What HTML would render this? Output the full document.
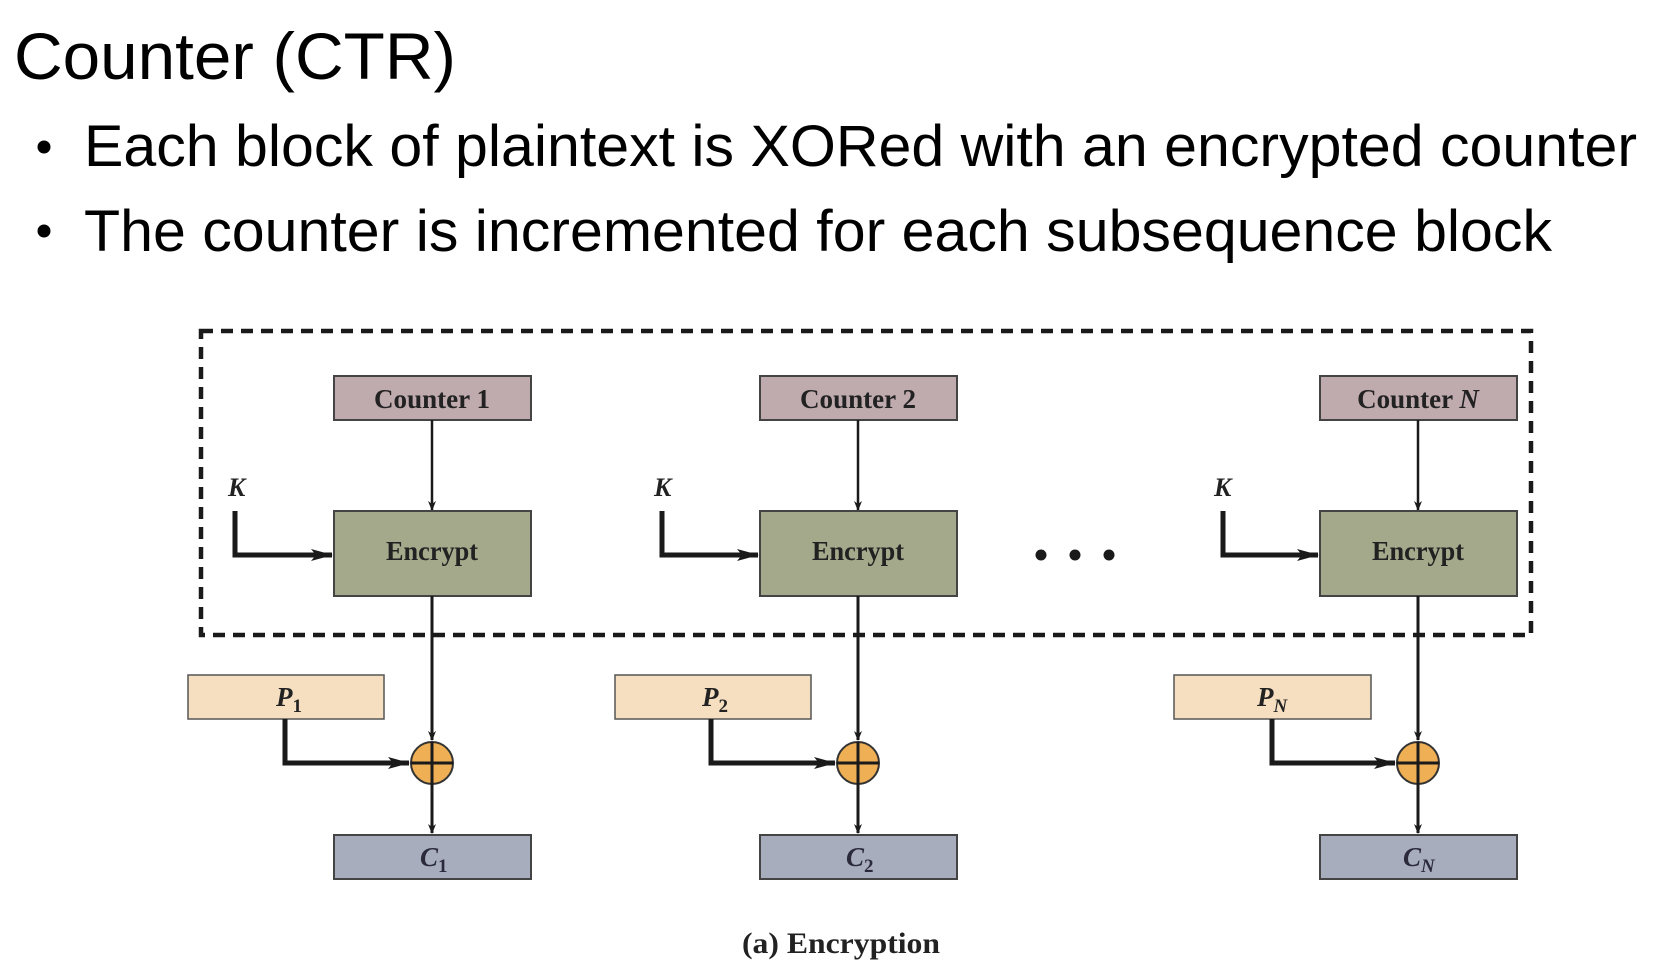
<!DOCTYPE html>
<html><head><meta charset="utf-8"><style>
html,body{margin:0;padding:0;background:#fff;}
svg{display:block;}
</style></head><body>
<svg width="1662" height="978" viewBox="0 0 1662 978" xmlns="http://www.w3.org/2000/svg">
<defs>
<marker id="a" markerWidth="10" markerHeight="10" refX="9" refY="5" orient="auto" markerUnits="userSpaceOnUse"><path d="M0,1 L10,5 L0,9 L3,5 z" fill="#1a1a1a"/></marker>
<marker id="b" markerWidth="22" markerHeight="14" refX="21" refY="7" orient="auto" markerUnits="userSpaceOnUse"><path d="M0,1 L22,7 L0,13 L5,7 z" fill="#1a1a1a"/></marker>
</defs>
<g font-family="Liberation Sans, Arial, sans-serif" fill="#000">
<text x="14" y="79" font-size="66" textLength="442" lengthAdjust="spacingAndGlyphs">Counter (CTR)</text>
<circle cx="44" cy="147" r="6.5"/>
<text x="84" y="166" font-size="58" textLength="1553" lengthAdjust="spacingAndGlyphs">Each block of plaintext is XORed with an encrypted counter</text>
<circle cx="44" cy="231" r="6.5"/>
<text x="84" y="251" font-size="58" textLength="1468" lengthAdjust="spacingAndGlyphs">The counter is incremented for each subsequence block</text>
</g>
<rect x="201" y="331" width="1330" height="304" fill="none" stroke="#1a1a1a" stroke-width="4.5" stroke-dasharray="12,8"/>
<g font-family="Liberation Serif, Times New Roman, serif" font-weight="bold" fill="#222" font-size="27">
<!-- group 1 -->
<g>
<rect x="334" y="376" width="197" height="44" fill="#bfaaae" stroke="#444" stroke-width="2"/>
<text x="432" y="408" text-anchor="middle" textLength="116" lengthAdjust="spacingAndGlyphs">Counter 1</text>
<line x1="432" y1="420" x2="432" y2="510" stroke="#1a1a1a" stroke-width="2.5" marker-end="url(#a)"/>
<rect x="334" y="511" width="197" height="85" fill="#a4a98b" stroke="#444" stroke-width="2"/>
<text x="432" y="560" text-anchor="middle" textLength="92" lengthAdjust="spacingAndGlyphs">Encrypt</text>
<text x="228" y="496" font-style="italic" font-size="26">K</text>
<polyline points="235,511 235,555 332,555" fill="none" stroke="#1a1a1a" stroke-width="5" marker-end="url(#b)"/>
<line x1="432" y1="596" x2="432" y2="740" stroke="#1a1a1a" stroke-width="3" marker-end="url(#a)"/>
<rect x="188" y="675" width="196" height="44" fill="#f5dfc0" stroke="#555" stroke-width="1.5"/>
<text x="276" y="706" font-style="italic">P<tspan font-size="19" dy="6" font-style="normal">1</tspan></text>
<polyline points="285,719 285,763 409,763" fill="none" stroke="#1a1a1a" stroke-width="5" marker-end="url(#b)"/>
<circle cx="432" cy="763" r="21" fill="#eeaf55" stroke="#333" stroke-width="2"/>
<line x1="411" y1="763" x2="453" y2="763" stroke="#1a1a1a" stroke-width="3"/>
<line x1="432" y1="742" x2="432" y2="833" stroke="#1a1a1a" stroke-width="3" marker-end="url(#a)"/>
<rect x="334" y="835" width="197" height="44" fill="#a8adbd" stroke="#444" stroke-width="2"/>
<text x="420" y="866" font-style="italic" fill="#2a2a3a">C<tspan font-size="19" dy="6" font-style="normal">1</tspan></text>
</g>
<!-- group 2 -->
<g>
<rect x="760" y="376" width="197" height="44" fill="#bfaaae" stroke="#444" stroke-width="2"/>
<text x="858" y="408" text-anchor="middle" textLength="116" lengthAdjust="spacingAndGlyphs">Counter 2</text>
<line x1="858" y1="420" x2="858" y2="510" stroke="#1a1a1a" stroke-width="2.5" marker-end="url(#a)"/>
<rect x="760" y="511" width="197" height="85" fill="#a4a98b" stroke="#444" stroke-width="2"/>
<text x="858" y="560" text-anchor="middle" textLength="92" lengthAdjust="spacingAndGlyphs">Encrypt</text>
<text x="654" y="496" font-style="italic" font-size="26">K</text>
<polyline points="662,511 662,555 758,555" fill="none" stroke="#1a1a1a" stroke-width="5" marker-end="url(#b)"/>
<line x1="858" y1="596" x2="858" y2="740" stroke="#1a1a1a" stroke-width="3" marker-end="url(#a)"/>
<rect x="615" y="675" width="196" height="44" fill="#f5dfc0" stroke="#555" stroke-width="1.5"/>
<text x="702" y="706" font-style="italic">P<tspan font-size="19" dy="6" font-style="normal">2</tspan></text>
<polyline points="711,719 711,763 835,763" fill="none" stroke="#1a1a1a" stroke-width="5" marker-end="url(#b)"/>
<circle cx="858" cy="763" r="21" fill="#eeaf55" stroke="#333" stroke-width="2"/>
<line x1="837" y1="763" x2="879" y2="763" stroke="#1a1a1a" stroke-width="3"/>
<line x1="858" y1="742" x2="858" y2="833" stroke="#1a1a1a" stroke-width="3" marker-end="url(#a)"/>
<rect x="760" y="835" width="197" height="44" fill="#a8adbd" stroke="#444" stroke-width="2"/>
<text x="846" y="866" font-style="italic" fill="#2a2a3a">C<tspan font-size="19" dy="6" font-style="normal">2</tspan></text>
</g>
<circle cx="1041" cy="555" r="5.5" fill="#1a1a1a"/>
<circle cx="1075" cy="555" r="5.5" fill="#1a1a1a"/>
<circle cx="1109" cy="555" r="5.5" fill="#1a1a1a"/>
<!-- group N -->
<g>
<rect x="1320" y="376" width="197" height="44" fill="#bfaaae" stroke="#444" stroke-width="2"/>
<text x="1418" y="408" text-anchor="middle">Counter <tspan font-style="italic">N</tspan></text>
<line x1="1418" y1="420" x2="1418" y2="510" stroke="#1a1a1a" stroke-width="2.5" marker-end="url(#a)"/>
<rect x="1320" y="511" width="197" height="85" fill="#a4a98b" stroke="#444" stroke-width="2"/>
<text x="1418" y="560" text-anchor="middle" textLength="92" lengthAdjust="spacingAndGlyphs">Encrypt</text>
<text x="1214" y="496" font-style="italic" font-size="26">K</text>
<polyline points="1223,511 1223,555 1318,555" fill="none" stroke="#1a1a1a" stroke-width="5" marker-end="url(#b)"/>
<line x1="1418" y1="596" x2="1418" y2="740" stroke="#1a1a1a" stroke-width="3" marker-end="url(#a)"/>
<rect x="1174" y="675" width="197" height="44" fill="#f5dfc0" stroke="#555" stroke-width="1.5"/>
<text x="1257" y="706" font-style="italic">P<tspan font-size="19" dy="6">N</tspan></text>
<polyline points="1272,719 1272,763 1395,763" fill="none" stroke="#1a1a1a" stroke-width="5" marker-end="url(#b)"/>
<circle cx="1418" cy="763" r="21" fill="#eeaf55" stroke="#333" stroke-width="2"/>
<line x1="1397" y1="763" x2="1439" y2="763" stroke="#1a1a1a" stroke-width="3"/>
<line x1="1418" y1="742" x2="1418" y2="833" stroke="#1a1a1a" stroke-width="3" marker-end="url(#a)"/>
<rect x="1320" y="835" width="197" height="44" fill="#a8adbd" stroke="#444" stroke-width="2"/>
<text x="1403" y="866" font-style="italic" fill="#2a2a3a">C<tspan font-size="19" dy="6">N</tspan></text>
</g>
<text x="841" y="953" text-anchor="middle" font-size="30" textLength="198" lengthAdjust="spacingAndGlyphs">(a) Encryption</text>
</g>
</svg>
</body></html>
